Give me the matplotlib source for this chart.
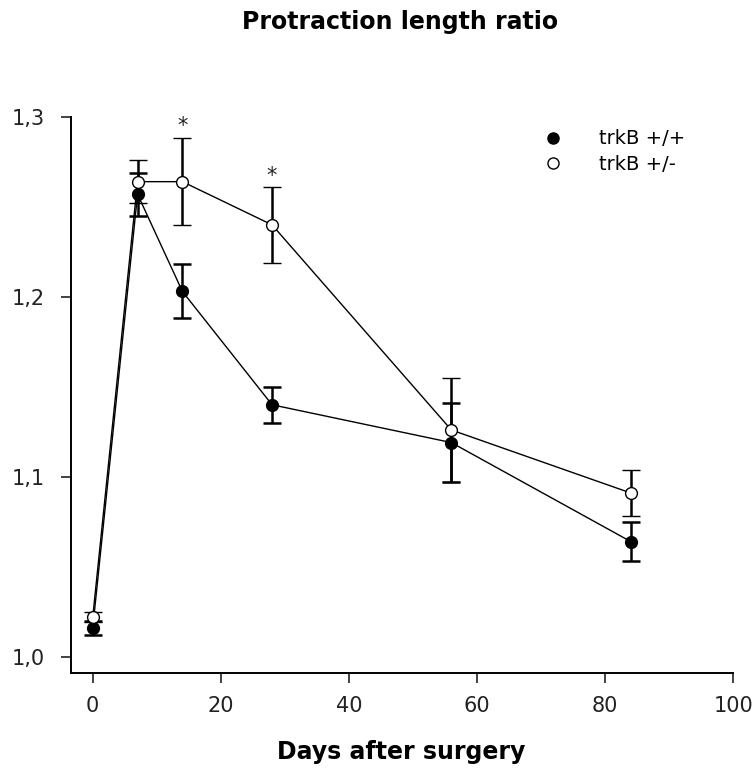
import numpy as np
import matplotlib
matplotlib.use('Agg')
import matplotlib.pyplot as plt
from matplotlib.lines import Line2D
from matplotlib.ticker import FuncFormatter

days = [0, 7, 14, 28, 56, 84]

# trkB +/+ (filled)
wtMean = [1.016, 1.257, 1.203, 1.140, 1.119, 1.064]
wtErr = [0.004, 0.012, 0.015, 0.010, 0.022, 0.011]

# trkB +/- (open)
hetMean = [1.022, 1.264, 1.264, 1.240, 1.126, 1.091]
hetErr = [0.003, 0.012, 0.024, 0.021, 0.029, 0.013]

# significance marks
starDays = [14, 28]
starY = [1.295, 1.267]

yTicks = [1.0, 1.1, 1.2, 1.3]
xTicks = [0, 20, 40, 60, 80, 100]


def main():
    plt.rcParams['font.family'] = ['DejaVu Sans']
    fig = plt.figure(figsize=(7.55, 7.69), dpi=100)
    ax = fig.add_axes([0.094, 0.125, 0.877, 0.723])

    errKw = dict(ecolor='black', elinewidth=1.8, capsize=6.5, capthick=1.8)
    ax.errorbar(days, wtMean, yerr=wtErr, color='black', lw=1.0, marker='o',
                markersize=8.5, mfc='black', mec='black', zorder=3, **errKw)
    ax.errorbar(days, hetMean, yerr=hetErr, color='black', lw=1.0, marker='o',
                markersize=8.5, mfc='white', mec='black', mew=1.0, zorder=4, **errKw)

    for d, y in zip(starDays, starY):
        ax.text(d, y, '*', ha='center', va='center', fontsize=15, color='#222222')

    ax.set_xlim(-3.4, 100)
    ax.set_ylim(0.991, 1.3)
    ax.set_xticks(xTicks)
    ax.set_yticks(yTicks)
    ax.yaxis.set_major_formatter(FuncFormatter(lambda v, p: '{:.1f}'.format(v).replace('.', ',')))
    ax.tick_params(direction='out', length=7.5, width=1.2, labelsize=15, colors='#222222')
    ax.tick_params(axis='y', pad=11)
    ax.tick_params(axis='x', pad=9)
    for side in ['top', 'right']:
        ax.spines[side].set_visible(False)
    for side in ['left', 'bottom']:
        ax.spines[side].set_linewidth(1.4)

    fig.text(0.53, 0.971, 'Protraction length ratio', ha='center', va='center',
             fontsize=17, fontweight='bold')
    fig.text(0.532, 0.022, 'Days after surgery', ha='center', va='center',
             fontsize=17, fontweight='bold')

    handles = [Line2D([], [], ls='none', marker='o', markersize=8, mfc='black', mec='black'),
               Line2D([], [], ls='none', marker='o', markersize=8, mfc='white', mec='black')]
    ax.legend(handles, ['trkB +/+', 'trkB +/-'], loc='upper left', bbox_to_anchor=(0.672, 1.009),
              frameon=False, fontsize=14, handletextpad=1.35, labelspacing=0.35)

    plt.savefig('out.png', dpi=100)
    plt.close()


if __name__ == '__main__':
    main()
